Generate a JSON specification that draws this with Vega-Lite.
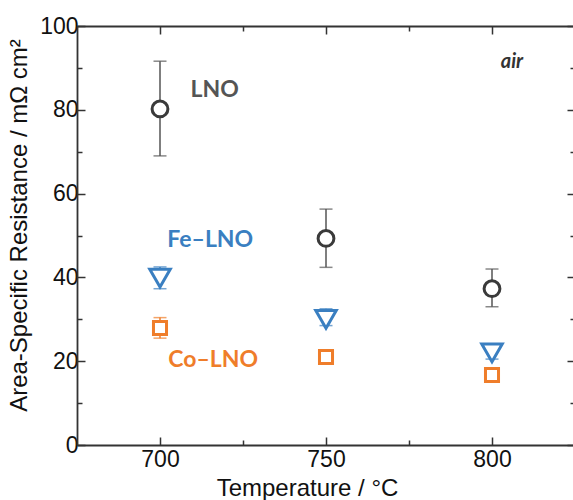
{
  "$schema": "https://vega.github.io/schema/vega-lite/v6.json",
  "autosize": "none",
  "width": 498,
  "height": 419,
  "padding": {"left": 77, "top": 26, "right": 0, "bottom": 55},
  "background": "white",
  "config": {"view": {"stroke": null}, "font": "Liberation Sans"},
  "datasets": {
    "pts": [
      {"sample": "LNO", "T": 700, "asr": 80.2, "lo": 69.0, "hi": 91.6},
      {"sample": "LNO", "T": 750, "asr": 49.3, "lo": 42.4, "hi": 56.3},
      {"sample": "LNO", "T": 800, "asr": 37.3, "lo": 33.0, "hi": 42.0},
      {"sample": "Fe–LNO", "T": 700, "asr": 39.8, "lo": 37.3, "hi": 42.5},
      {"sample": "Fe–LNO", "T": 750, "asr": 30.0, "lo": 28.5, "hi": 32.5},
      {"sample": "Fe–LNO", "T": 800, "asr": 22.0, "lo": 20.5, "hi": 24.0},
      {"sample": "Co–LNO", "T": 700, "asr": 27.9, "lo": 25.5, "hi": 30.4},
      {"sample": "Co–LNO", "T": 750, "asr": 21.0, "lo": 20.4, "hi": 21.6},
      {"sample": "Co–LNO", "T": 800, "asr": 16.7, "lo": 16.1, "hi": 17.3}
    ],
    "labels": [
      {"text": "LNO", "T": 709.2, "asr": 84.7, "sample": "LNO"},
      {"text": "Fe–LNO", "T": 702.2, "asr": 48.9, "sample": "Fe–LNO"},
      {"text": "Co–LNO", "T": 702.5, "asr": 20.3, "sample": "Co–LNO"}
    ],
    "note": [{"text": "air", "T": 806, "asr": 91.4}]
  },
  "resolve": {"axis": {"x": "independent", "y": "independent"}},
  "layer": [
    {
      "data": {"values": [{}]},
      "mark": {"type": "point", "opacity": 0},
      "encoding": {
        "x": {"datum": 750, "type": "quantitative", "scale": {"domain": [675, 825], "nice": false, "zero": false},
          "axis": {"orient": "top", "values": [700, 750, 800], "labels": false, "title": null, "tickSize": -8, "tickColor": "#333", "tickWidth": 1.5, "domainColor": "#333", "domainWidth": 1.8, "grid": false}},
        "y": {"datum": 50, "type": "quantitative", "scale": {"domain": [0, 100], "nice": false},
          "axis": {"orient": "right", "values": [0, 20, 40, 60, 80, 100], "labels": false, "title": null, "tickSize": -8, "tickColor": "#333", "tickWidth": 1.5, "domainColor": "#333", "domainWidth": 1.8, "grid": false}}
      }
    },
    {
      "data": {"values": [{}]},
      "mark": {"type": "point", "opacity": 0},
      "encoding": {
        "x": {"datum": 750, "type": "quantitative",
          "axis": {"orient": "top", "values": [725, 775], "labels": false, "title": null, "domain": false, "tickSize": -5, "tickColor": "#333", "tickWidth": 1.5, "grid": false}},
        "y": {"datum": 50, "type": "quantitative",
          "axis": {"orient": "right", "values": [10, 30, 50, 70, 90], "labels": false, "title": null, "domain": false, "tickSize": -5, "tickColor": "#333", "tickWidth": 1.5, "grid": false}}
      }
    },
    {
      "data": {"values": [{}]},
      "mark": {"type": "point", "opacity": 0},
      "encoding": {
        "x": {"datum": 750, "type": "quantitative",
          "axis": {"orient": "bottom", "values": [725, 775], "labels": false, "title": null, "domain": false, "tickSize": -5, "tickColor": "#333", "tickWidth": 1.5, "grid": false}},
        "y": {"datum": 50, "type": "quantitative",
          "axis": {"orient": "left", "values": [10, 30, 50, 70, 90], "labels": false, "title": null, "domain": false, "tickSize": -5, "tickColor": "#333", "tickWidth": 1.5, "grid": false}}
      }
    },
    {
      "data": {"name": "pts"},
      "mark": {"type": "rule", "strokeWidth": 1.5},
      "encoding": {
        "x": {"field": "T", "type": "quantitative",
          "axis": {"orient": "bottom", "values": [700, 750, 800], "title": "Temperature / °C", "titleFontSize": 24, "titleFontWeight": "normal", "titleColor": "#111", "titlePadding": 5, "titleX": 230, "labelFontSize": 23, "labelColor": "#111", "labelPadding": 11, "tickSize": -8, "tickColor": "#333", "tickWidth": 1.5, "domainColor": "#333", "domainWidth": 1.8, "grid": false}},
        "y": {"field": "lo", "type": "quantitative",
          "axis": {"orient": "left", "values": [0, 20, 40, 60, 80, 100], "title": "Area-Specific Resistance / mΩ cm²", "titleFontSize": 24, "titleFontWeight": "normal", "titleColor": "#111", "titlePadding": 8, "titleY": 199, "labelFontSize": 23, "labelColor": "#111", "labelPadding": 7, "tickSize": -8, "tickColor": "#333", "tickWidth": 1.5, "domainColor": "#333", "domainWidth": 1.8, "grid": false}},
        "y2": {"field": "hi"},
        "color": {"field": "sample", "type": "nominal", "scale": {"domain": ["LNO", "Fe–LNO", "Co–LNO"], "range": ["#555555", "#3a7fc1", "#ef7d2a"]}, "legend": null}
      }
    },
    {
      "data": {"name": "pts"},
      "mark": {"type": "tick", "orient": "horizontal", "size": 13, "thickness": 1.5},
      "encoding": {
        "x": {"field": "T", "type": "quantitative", "axis": null},
        "y": {"field": "lo", "type": "quantitative", "axis": null},
        "color": {"field": "sample", "type": "nominal", "legend": null}
      }
    },
    {
      "data": {"name": "pts"},
      "mark": {"type": "tick", "orient": "horizontal", "size": 13, "thickness": 1.5},
      "encoding": {
        "x": {"field": "T", "type": "quantitative", "axis": null},
        "y": {"field": "hi", "type": "quantitative", "axis": null},
        "color": {"field": "sample", "type": "nominal", "legend": null}
      }
    },
    {
      "data": {"name": "pts"},
      "mark": {"type": "point", "filled": true, "fill": "white", "strokeWidth": 3, "opacity": 1},
      "encoding": {
        "x": {"field": "T", "type": "quantitative", "axis": null},
        "y": {"field": "asr", "type": "quantitative", "axis": null},
        "stroke": {"field": "sample", "type": "nominal", "scale": {"domain": ["LNO", "Fe–LNO", "Co–LNO"], "range": ["#3a3a3a", "#3a7fc1", "#ef7d2a"]}, "legend": null},
        "shape": {"field": "sample", "type": "nominal", "scale": {"domain": ["LNO", "Fe–LNO", "Co–LNO"], "range": ["circle", "triangle-down", "square"]}, "legend": null},
        "size": {"field": "sample", "type": "nominal", "scale": {"type": "ordinal", "domain": ["LNO", "Fe–LNO", "Co–LNO"], "range": [250, 420, 170]}, "legend": null}
      }
    },
    {
      "data": {"name": "labels"},
      "mark": {"type": "text", "align": "left", "baseline": "middle", "font": "Lato", "fontWeight": "bold", "fontSize": 23},
      "encoding": {
        "x": {"field": "T", "type": "quantitative", "axis": null},
        "y": {"field": "asr", "type": "quantitative", "axis": null},
        "text": {"field": "text"},
        "color": {"field": "sample", "type": "nominal", "scale": {"domain": ["LNO", "Fe–LNO", "Co–LNO"], "range": ["#3a3a3a", "#2e75b6", "#e8751f"]}, "legend": null}
      }
    },
    {
      "data": {"name": "note"},
      "mark": {"type": "text", "align": "center", "baseline": "middle", "font": "Lato", "fontWeight": "bold", "fontStyle": "italic", "fontSize": 20, "color": "#333"},
      "encoding": {
        "x": {"field": "T", "type": "quantitative", "axis": null},
        "y": {"field": "asr", "type": "quantitative", "axis": null},
        "text": {"field": "text"}
      }
    }
  ]
}
